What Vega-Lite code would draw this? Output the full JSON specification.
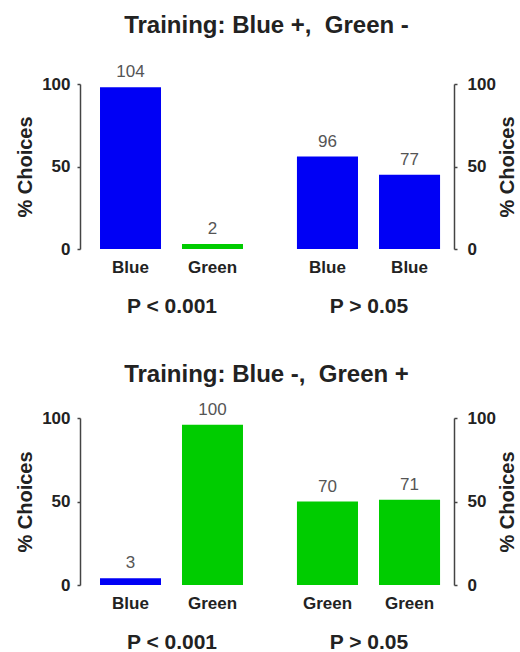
{
  "$schema": "https://vega.github.io/schema/vega-lite/v6.json",
  "padding": {"left": 15, "top": 14, "right": 0, "bottom": 0},
  "background": "white",
  "spacing": 46,
  "config": {
    "font": "Liberation Sans",
    "view": {"stroke": null},
    "concat": {"spacing": 20},
    "axis": {"grid": false, "domainColor": "#444444", "domainWidth": 1.5, "tickColor": "#444444", "tickWidth": 1.5, "tickSize": 3, "labelFont": "Liberation Sans", "labelFontWeight": "bold", "labelFontSize": 17, "labelColor": "#222222", "titleFont": "Liberation Sans", "titleFontWeight": "bold", "titleFontSize": 20, "titleColor": "#222222"},
    "title": {"font": "Liberation Sans", "fontSize": 24, "fontWeight": "bold", "color": "#222222", "anchor": "middle"}
  },
  "datasets": {
    "top": [
      {"group": "test1", "bar": "Blue 1", "choice": "Blue", "pct": 98, "n": "104"},
      {"group": "test1", "bar": "Green 2", "choice": "Green", "pct": 3, "n": "2"},
      {"group": "test2", "bar": "Blue 3", "choice": "Blue", "pct": 56, "n": "96"},
      {"group": "test2", "bar": "Blue 4", "choice": "Blue", "pct": 45, "n": "77"}
    ],
    "bottom": [
      {"group": "test1", "bar": "Blue 1", "choice": "Blue", "pct": 4, "n": "3"},
      {"group": "test1", "bar": "Green 2", "choice": "Green", "pct": 96, "n": "100"},
      {"group": "test2", "bar": "Green 3", "choice": "Green", "pct": 50, "n": "70"},
      {"group": "test2", "bar": "Green 4", "choice": "Green", "pct": 51, "n": "71"}
    ]
  },
  "vconcat": [
    {
      "title": {"text": "Training: Blue +,\u00a0 Green -", "offset": 25},
      "hconcat": [
        {
          "width": 183, "height": 165,
          "data": {"name": "top"},
          "transform": [{"filter": "datum.group == 'test1'"}],
          "encoding": {
            "x": {"field": "bar", "type": "nominal", "sort": null, "scale": {"paddingInner": 0.256, "paddingOuter": 0.244}, "axis": {"title": "P < 0.001", "titleFontSize": 21, "titlePadding": 20, "labelExpr": "split(datum.label, ' ')[0]", "labelAngle": 0, "domain": false, "ticks": false, "labelPadding": 10}},
            "y": {"field": "pct", "type": "quantitative", "scale": {"domain": [0, 100]}, "axis": {"values": [0, 50, 100], "title": "% Choices", "titlePadding": 6, "labelPadding": 7}}
          },
          "layer": [
            {"mark": {"type": "bar"}, "encoding": {"color": {"field": "choice", "type": "nominal", "scale": {"domain": ["Blue", "Green"], "range": ["#0000f5", "#00cc00"]}, "legend": null}}},
            {"mark": {"type": "text", "dy": -15, "fontSize": 17, "color": "#555555"}, "encoding": {"text": {"field": "n"}}}
          ]
        },
        {
          "width": 171, "height": 165,
          "data": {"name": "top"},
          "transform": [{"filter": "datum.group == 'test2'"}],
          "encoding": {
            "x": {"field": "bar", "type": "nominal", "sort": null, "scale": {"paddingInner": 0.256, "paddingOuter": 0.17}, "axis": {"title": "P > 0.05", "titleFontSize": 21, "titlePadding": 20, "labelExpr": "split(datum.label, ' ')[0]", "labelAngle": 0, "domain": false, "ticks": false, "labelPadding": 10}},
            "y": {"field": "pct", "type": "quantitative", "scale": {"domain": [0, 100]}, "axis": {"orient": "right", "values": [0, 50, 100], "title": "% Choices", "titleAngle": 270, "titleBaseline": "top", "titlePadding": 2, "labelPadding": 10}}
          },
          "layer": [
            {"mark": {"type": "bar"}, "encoding": {"color": {"field": "choice", "type": "nominal", "scale": {"domain": ["Blue", "Green"], "range": ["#0000f5", "#00cc00"]}, "legend": null}}},
            {"mark": {"type": "text", "dy": -15, "fontSize": 17, "color": "#555555"}, "encoding": {"text": {"field": "n"}}}
          ]
        }
      ]
    },
    {
      "title": {"text": "Training: Blue -,\u00a0 Green +", "offset": 14},
      "hconcat": [
        {
          "width": 183, "height": 167,
          "data": {"name": "bottom"},
          "transform": [{"filter": "datum.group == 'test1'"}],
          "encoding": {
            "x": {"field": "bar", "type": "nominal", "sort": null, "scale": {"paddingInner": 0.256, "paddingOuter": 0.244}, "axis": {"title": "P < 0.001", "titleFontSize": 21, "titlePadding": 20, "labelExpr": "split(datum.label, ' ')[0]", "labelAngle": 0, "domain": false, "ticks": false, "labelPadding": 10}},
            "y": {"field": "pct", "type": "quantitative", "scale": {"domain": [0, 100]}, "axis": {"values": [0, 50, 100], "title": "% Choices", "titlePadding": 6, "labelPadding": 7}}
          },
          "layer": [
            {"mark": {"type": "bar"}, "encoding": {"color": {"field": "choice", "type": "nominal", "scale": {"domain": ["Blue", "Green"], "range": ["#0000f5", "#00cc00"]}, "legend": null}}},
            {"mark": {"type": "text", "dy": -15, "fontSize": 17, "color": "#555555"}, "encoding": {"text": {"field": "n"}}}
          ]
        },
        {
          "width": 171, "height": 167,
          "data": {"name": "bottom"},
          "transform": [{"filter": "datum.group == 'test2'"}],
          "encoding": {
            "x": {"field": "bar", "type": "nominal", "sort": null, "scale": {"paddingInner": 0.256, "paddingOuter": 0.17}, "axis": {"title": "P > 0.05", "titleFontSize": 21, "titlePadding": 20, "labelExpr": "split(datum.label, ' ')[0]", "labelAngle": 0, "domain": false, "ticks": false, "labelPadding": 10}},
            "y": {"field": "pct", "type": "quantitative", "scale": {"domain": [0, 100]}, "axis": {"orient": "right", "values": [0, 50, 100], "title": "% Choices", "titleAngle": 270, "titleBaseline": "top", "titlePadding": 2, "labelPadding": 10}}
          },
          "layer": [
            {"mark": {"type": "bar"}, "encoding": {"color": {"field": "choice", "type": "nominal", "scale": {"domain": ["Blue", "Green"], "range": ["#0000f5", "#00cc00"]}, "legend": null}}},
            {"mark": {"type": "text", "dy": -15, "fontSize": 17, "color": "#555555"}, "encoding": {"text": {"field": "n"}}}
          ]
        }
      ]
    }
  ]
}
